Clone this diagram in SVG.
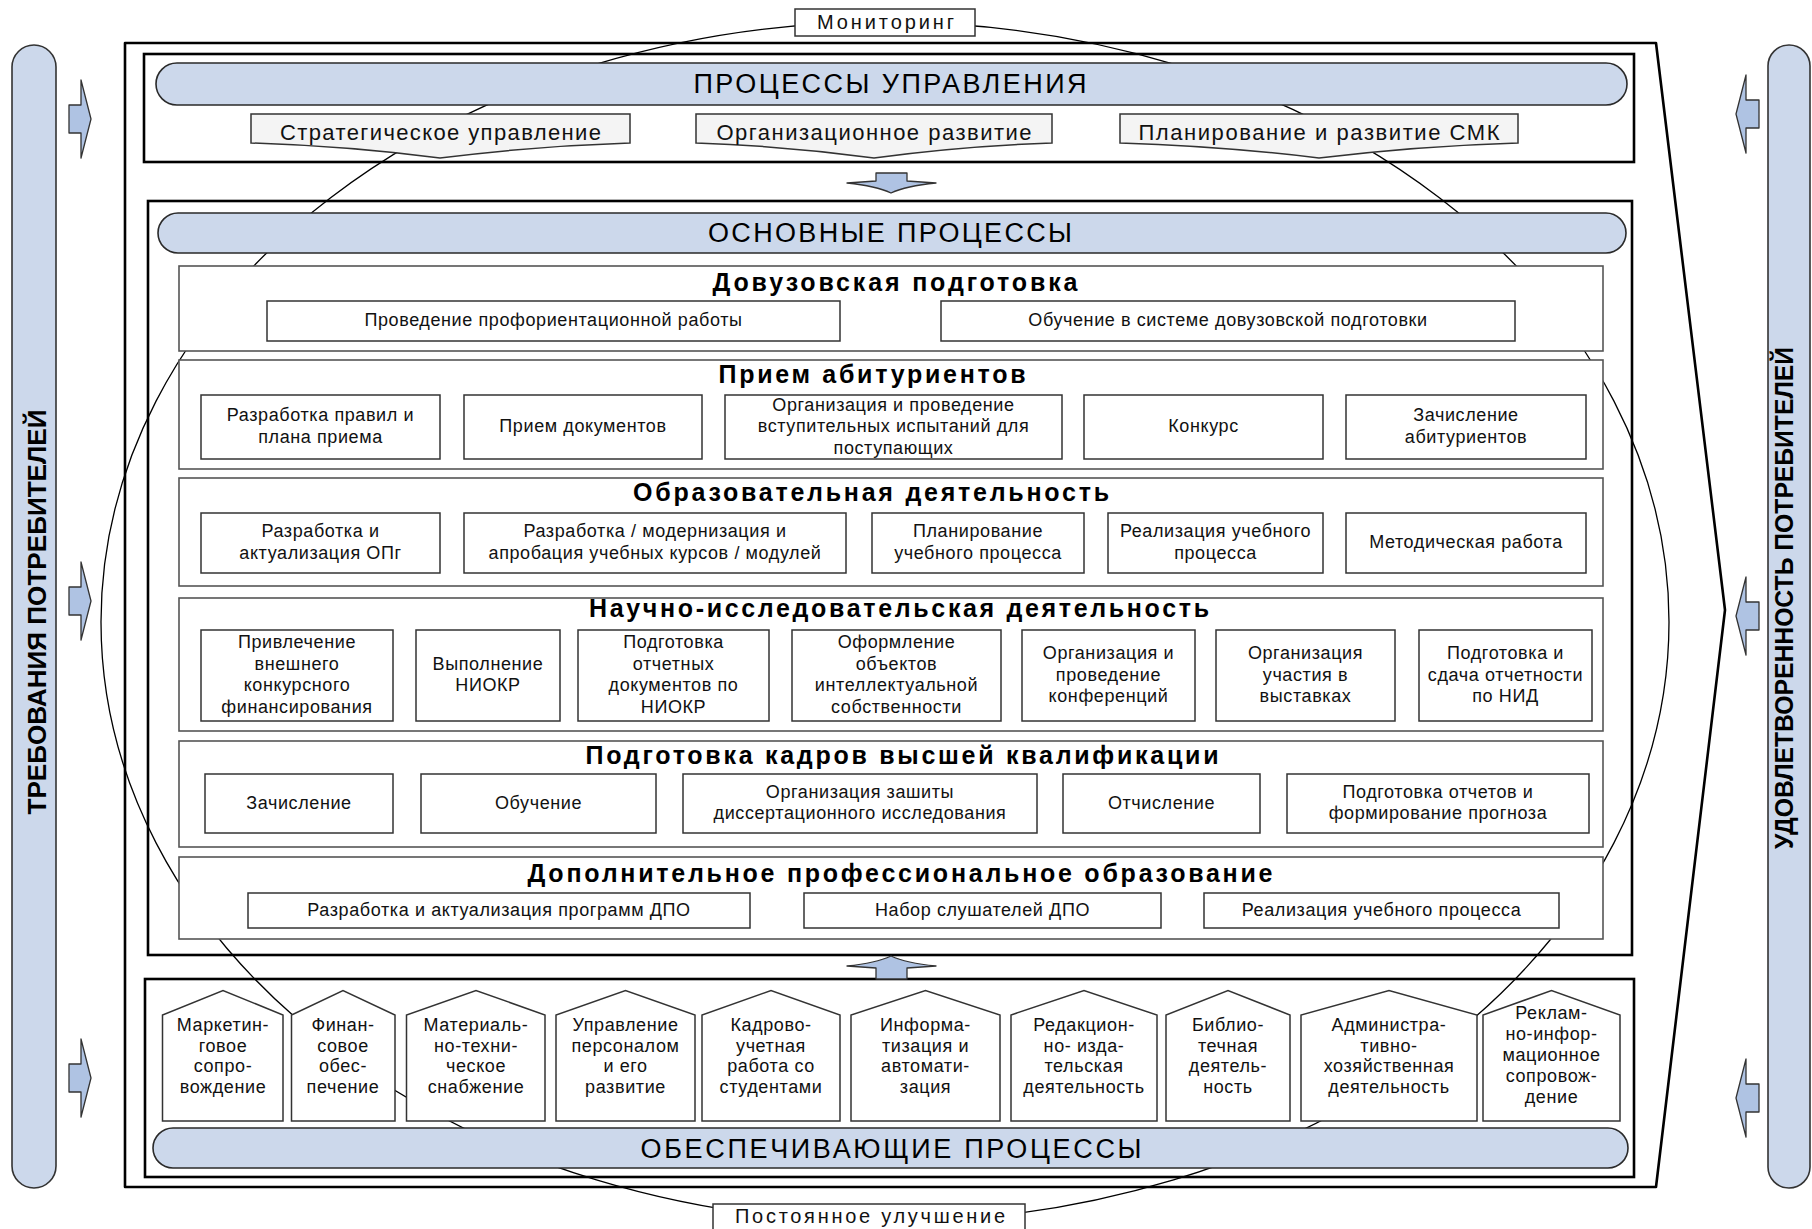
<svg xmlns="http://www.w3.org/2000/svg" width="1812" height="1229" viewBox="0 0 1812 1229">
<style>
  .frame{fill:#fff;stroke:#000;stroke-width:2.6;stroke-linejoin:round}
  .cont{fill:#fff;stroke:#000;stroke-width:2.6}
  .pill{fill:#ccd8eb;stroke:#2a2a2a;stroke-width:1.6}
  .bar{fill:#ccd8eb;stroke:#333;stroke-width:1.6}
  .sec{fill:#fff;stroke:#555;stroke-width:1.6}
  .box{fill:#fff;stroke:#333;stroke-width:1.5}
  .mg{fill:#f4f4f4;stroke:#333;stroke-width:1.5}
  .lbl{fill:#fff;stroke:#333;stroke-width:1.5}
  .loop{fill:none;stroke:#000;stroke-width:1.3}
  .arr{fill:#afc3e3;stroke:#333;stroke-width:1.3;stroke-linejoin:round}
  text{font-family:"Liberation Sans",Arial,sans-serif;text-anchor:middle;fill:#111}
  .t{font-size:18px;letter-spacing:0.6px}
  .mgt{font-size:22px}
  .pt{font-size:27px;fill:#000}
  .h{font-size:25px;font-weight:bold;fill:#000}
  .bt{font-size:25px;font-weight:bold;fill:#000}
  .lt{font-size:20px}
</style>

<!-- outer frame -->
<g id="outer-frame">
  <polygon class="frame" points="125,43 1656,43 1725,610 1656,1187 125,1187"/>
</g>

<!-- container boxes -->
<g id="management-box"><rect class="cont" x="144" y="54" width="1490" height="108"/></g>
<g id="core-box"><rect class="cont" x="148" y="201" width="1484" height="754"/></g>
<g id="support-box"><rect class="cont" x="145" y="979" width="1489" height="198"/></g>

<!-- connectors: monitoring / improvement loop and flow arrows -->
<g id="connectors">
  <ellipse class="loop" cx="885" cy="622" rx="784" ry="600"/>
  <path class="arr" d="M876,173 H907 V181 L936,183 Q906,186 891,193 Q876,186 847,183 L876,181 Z"/>
  <path class="arr" d="M876,979 V968 L847,966 Q876,963 891,956 Q906,963 936,966 L907,968 V979 Z"/>
  <!-- requirement arrows (left) -->
  <path class="arr" d="M69,105 H81 V80 L91,119 L81,158 V133 H69 Z"/>
  <path class="arr" d="M69,587 H81 V562 L91,601 L81,640 V615 H69 Z"/>
  <path class="arr" d="M69,1064 H81 V1039 L91,1078 L81,1117 V1092 H69 Z"/>
  <!-- satisfaction arrows (right) -->
  <path class="arr" d="M1759,100 H1746 V75 L1736,114 L1746,153 V128 H1759 Z"/>
  <path class="arr" d="M1759,602 H1746 V577 L1736,616 L1746,655 V630 H1759 Z"/>
  <path class="arr" d="M1759,1084 H1746 V1059 L1736,1098 L1746,1137 V1112 H1759 Z"/>
</g>

<!-- side bars -->
<g id="requirements-bar">
  <rect class="bar" x="12" y="45" width="44" height="1143" rx="22"/>
  <text class="bt" transform="translate(46,612) rotate(-90)" textLength="405" lengthAdjust="spacingAndGlyphs">ТРЕБОВАНИЯ ПОТРЕБИТЕЛЕЙ</text>
</g>
<g id="satisfaction-bar">
  <rect class="bar" x="1768" y="45" width="42" height="1143" rx="21"/>
  <text class="bt" transform="translate(1793,598) rotate(-90)" textLength="502" lengthAdjust="spacingAndGlyphs">УДОВЛЕТВОРЕННОСТЬ ПОТРЕБИТЕЛЕЙ</text>
</g>

<!-- management processes -->
<g id="management-title">
  <rect class="pill" x="156" y="63" width="1471" height="42" rx="21"/>
  <text class="pt" x="890" y="93" textLength="393">ПРОЦЕССЫ УПРАВЛЕНИЯ</text>
</g>
<g id="mg-strategic">
  <path class="mg" d="M251,114 H630 V143 Q535,146 440,158 Q346,146 251,143 Z"/>
  <text class="mgt" x="440.5" y="140" textLength="321">Стратегическое управление</text>
</g>
<g id="mg-org">
  <path class="mg" d="M696,114 H1052 V143 Q963,146 874,158 Q785,146 696,143 Z"/>
  <text class="mgt" x="874" y="140" textLength="315">Организационное развитие</text>
</g>
<g id="mg-qms">
  <path class="mg" d="M1120,114 H1518 V143 Q1419,146 1319,158 Q1220,146 1120,143 Z"/>
  <text class="mgt" x="1319" y="140" textLength="361">Планирование и развитие СМК</text>
</g>

<!-- core processes -->
<g id="core-title">
  <rect class="pill" x="158" y="213" width="1468" height="40" rx="20"/>
  <text class="pt" x="890" y="242" textLength="364">ОСНОВНЫЕ ПРОЦЕССЫ</text>
</g>

<g id="sec-preuniversity">
  <rect class="sec" x="179" y="266" width="1424" height="85"/>
  <text class="h" x="895" y="291" textLength="365">Довузовская подготовка</text>
  <rect class="box" x="267" y="301" width="573" height="40"/>
  <text class="t" x="553.5" y="326">Проведение профориентационной работы</text>
  <rect class="box" x="941" y="301" width="574" height="40"/>
  <text class="t" x="1228" y="326">Обучение в системе довузовской подготовки</text>
</g>

<g id="sec-admission">
  <rect class="sec" x="179" y="360" width="1424" height="109"/>
  <text class="h" x="872" y="383" textLength="307">Прием абитуриентов</text>
  <rect class="box" x="201" y="395" width="239" height="64"/>
  <text class="t" x="320.5" y="421"><tspan x="320.5">Разработка правил и</tspan><tspan x="320.5" dy="21.5">плана приема</tspan></text>
  <rect class="box" x="464" y="395" width="238" height="64"/>
  <text class="t" x="583" y="432">Прием документов</text>
  <rect class="box" x="725" y="395" width="337" height="64"/>
  <text class="t" x="893.5" y="410.5"><tspan x="893.5">Организация и проведение</tspan><tspan x="893.5" dy="21.5">вступительных испытаний для</tspan><tspan x="893.5" dy="21.5">поступающих</tspan></text>
  <rect class="box" x="1084" y="395" width="239" height="64"/>
  <text class="t" x="1203.5" y="432">Конкурс</text>
  <rect class="box" x="1346" y="395" width="240" height="64"/>
  <text class="t" x="1466" y="421"><tspan x="1466">Зачисление</tspan><tspan x="1466" dy="21.5">абитуриентов</tspan></text>
</g>

<g id="sec-education">
  <rect class="sec" x="179" y="478" width="1424" height="108"/>
  <text class="h" x="871" y="501" textLength="476">Образовательная деятельность</text>
  <rect class="box" x="201" y="513" width="239" height="60"/>
  <text class="t" x="320.5" y="537"><tspan x="320.5">Разработка и</tspan><tspan x="320.5" dy="21.5">актуализация ОПг</tspan></text>
  <rect class="box" x="464" y="513" width="382" height="60"/>
  <text class="t" x="655" y="537"><tspan x="655">Разработка / модернизация и</tspan><tspan x="655" dy="21.5">апробация учебных курсов / модулей</tspan></text>
  <rect class="box" x="872" y="513" width="212" height="60"/>
  <text class="t" x="978" y="537"><tspan x="978">Планирование</tspan><tspan x="978" dy="21.5">учебного процесса</tspan></text>
  <rect class="box" x="1108" y="513" width="215" height="60"/>
  <text class="t" x="1215.5" y="537"><tspan x="1215.5">Реализация учебного</tspan><tspan x="1215.5" dy="21.5">процесса</tspan></text>
  <rect class="box" x="1346" y="513" width="240" height="60"/>
  <text class="t" x="1466" y="548">Методическая работа</text>
</g>

<g id="sec-research">
  <rect class="sec" x="179" y="598" width="1424" height="133"/>
  <text class="h" x="899" y="617" textLength="620">Научно-исследовательская деятельность</text>
  <rect class="box" x="201" y="630" width="192" height="91"/>
  <text class="t" x="297" y="648"><tspan x="297">Привлечение</tspan><tspan x="297" dy="21.5">внешнего</tspan><tspan x="297" dy="21.5">конкурсного</tspan><tspan x="297" dy="21.5">финансирования</tspan></text>
  <rect class="box" x="416" y="630" width="144" height="91"/>
  <text class="t" x="488" y="669.5"><tspan x="488">Выполнение</tspan><tspan x="488" dy="21.5">НИОКР</tspan></text>
  <rect class="box" x="578" y="630" width="191" height="91"/>
  <text class="t" x="673.5" y="648"><tspan x="673.5">Подготовка</tspan><tspan x="673.5" dy="21.5">отчетных</tspan><tspan x="673.5" dy="21.5">документов по</tspan><tspan x="673.5" dy="21.5">НИОКР</tspan></text>
  <rect class="box" x="792" y="630" width="209" height="91"/>
  <text class="t" x="896.5" y="648"><tspan x="896.5">Оформление</tspan><tspan x="896.5" dy="21.5">объектов</tspan><tspan x="896.5" dy="21.5">интеллектуальной</tspan><tspan x="896.5" dy="21.5">собственности</tspan></text>
  <rect class="box" x="1022" y="630" width="173" height="91"/>
  <text class="t" x="1108.5" y="659"><tspan x="1108.5">Организация и</tspan><tspan x="1108.5" dy="21.5">проведение</tspan><tspan x="1108.5" dy="21.5">конференций</tspan></text>
  <rect class="box" x="1216" y="630" width="179" height="91"/>
  <text class="t" x="1305.5" y="659"><tspan x="1305.5">Организация</tspan><tspan x="1305.5" dy="21.5">участия в</tspan><tspan x="1305.5" dy="21.5">выставках</tspan></text>
  <rect class="box" x="1419" y="630" width="173" height="91"/>
  <text class="t" x="1505.5" y="659"><tspan x="1505.5">Подготовка и</tspan><tspan x="1505.5" dy="21.5">сдача отчетности</tspan><tspan x="1505.5" dy="21.5">по НИД</tspan></text>
</g>

<g id="sec-postgraduate">
  <rect class="sec" x="179" y="741" width="1424" height="106"/>
  <text class="h" x="902" y="764" textLength="633">Подготовка кадров высшей квалификации</text>
  <rect class="box" x="205" y="774" width="188" height="59"/>
  <text class="t" x="299" y="808.5">Зачисление</text>
  <rect class="box" x="421" y="774" width="235" height="59"/>
  <text class="t" x="538.5" y="808.5">Обучение</text>
  <rect class="box" x="683" y="774" width="354" height="59"/>
  <text class="t" x="860" y="798"><tspan x="860">Организация зашиты</tspan><tspan x="860" dy="21">диссертационного исследования</tspan></text>
  <rect class="box" x="1063" y="774" width="197" height="59"/>
  <text class="t" x="1161.5" y="808.5">Отчисление</text>
  <rect class="box" x="1287" y="774" width="302" height="59"/>
  <text class="t" x="1438" y="798"><tspan x="1438">Подготовка отчетов и</tspan><tspan x="1438" dy="21">формирование прогноза</tspan></text>
</g>

<g id="sec-additional">
  <rect class="sec" x="179" y="857" width="1424" height="82"/>
  <text class="h" x="900" y="882" textLength="745">Дополнительное профессиональное образование</text>
  <rect class="box" x="248" y="893" width="502" height="35"/>
  <text class="t" x="499" y="916">Разработка и актуализация программ ДПО</text>
  <rect class="box" x="804" y="893" width="357" height="35"/>
  <text class="t" x="982.5" y="916">Набор слушателей ДПО</text>
  <rect class="box" x="1204" y="893" width="355" height="35"/>
  <text class="t" x="1381.5" y="916">Реализация учебного процесса</text>
</g>

<!-- supporting processes -->
<g id="sup-marketing">
  <path class="box" d="M162.5,1121 V1015 L223,990.5 L283,1015 V1121 Z"/>
  <text class="t" x="223" y="1031"><tspan x="223">Маркетин-</tspan><tspan x="223" dy="20.5">говое</tspan><tspan x="223" dy="20.5">сопро-</tspan><tspan x="223" dy="20.5">вождение</tspan></text>
</g>
<g id="sup-finance">
  <path class="box" d="M291.5,1121 V1015 L343,990.5 L395,1015 V1121 Z"/>
  <text class="t" x="343" y="1031"><tspan x="343">Финан-</tspan><tspan x="343" dy="20.5">совое</tspan><tspan x="343" dy="20.5">обес-</tspan><tspan x="343" dy="20.5">печение</tspan></text>
</g>
<g id="sup-logistics">
  <path class="box" d="M406.5,1121 V1015 L476,990.5 L545,1015 V1121 Z"/>
  <text class="t" x="476" y="1031"><tspan x="476">Материаль-</tspan><tspan x="476" dy="20.5">но-техни-</tspan><tspan x="476" dy="20.5">ческое</tspan><tspan x="476" dy="20.5">снабжение</tspan></text>
</g>
<g id="sup-hr">
  <path class="box" d="M556,1121 V1015 L625.5,990.5 L695,1015 V1121 Z"/>
  <text class="t" x="625.5" y="1031"><tspan x="625.5">Управление</tspan><tspan x="625.5" dy="20.5">персоналом</tspan><tspan x="625.5" dy="20.5">и его</tspan><tspan x="625.5" dy="20.5">развитие</tspan></text>
</g>
<g id="sup-students">
  <path class="box" d="M702,1121 V1015 L771,990.5 L840,1015 V1121 Z"/>
  <text class="t" x="771" y="1031"><tspan x="771">Кадрово-</tspan><tspan x="771" dy="20.5">учетная</tspan><tspan x="771" dy="20.5">работа со</tspan><tspan x="771" dy="20.5">студентами</tspan></text>
</g>
<g id="sup-it">
  <path class="box" d="M851,1121 V1015 L925.5,990.5 L1000,1015 V1121 Z"/>
  <text class="t" x="925.5" y="1031"><tspan x="925.5">Информа-</tspan><tspan x="925.5" dy="20.5">тизация и</tspan><tspan x="925.5" dy="20.5">автомати-</tspan><tspan x="925.5" dy="20.5">зация</tspan></text>
</g>
<g id="sup-publishing">
  <path class="box" d="M1011,1121 V1015 L1084,990.5 L1157,1015 V1121 Z"/>
  <text class="t" x="1084" y="1031"><tspan x="1084">Редакцион-</tspan><tspan x="1084" dy="20.5">но- изда-</tspan><tspan x="1084" dy="20.5">тельская</tspan><tspan x="1084" dy="20.5">деятельность</tspan></text>
</g>
<g id="sup-library">
  <path class="box" d="M1166,1121 V1015 L1228,990.5 L1290,1015 V1121 Z"/>
  <text class="t" x="1228" y="1031"><tspan x="1228">Библио-</tspan><tspan x="1228" dy="20.5">течная</tspan><tspan x="1228" dy="20.5">деятель-</tspan><tspan x="1228" dy="20.5">ность</tspan></text>
</g>
<g id="sup-admin">
  <path class="box" d="M1301,1121 V1015 L1389,990.5 L1477,1015 V1121 Z"/>
  <text class="t" x="1389" y="1031"><tspan x="1389">Администра-</tspan><tspan x="1389" dy="20.5">тивно-</tspan><tspan x="1389" dy="20.5">хозяйственная</tspan><tspan x="1389" dy="20.5">деятельность</tspan></text>
</g>
<g id="sup-promo">
  <path class="box" d="M1483,1121 V1015 L1551.5,990.5 L1620,1015 V1121 Z"/>
  <text class="t" x="1551.5" y="1019"><tspan x="1551.5">Реклам-</tspan><tspan x="1551.5" dy="21">но-инфор-</tspan><tspan x="1551.5" dy="21">мационное</tspan><tspan x="1551.5" dy="21">сопровож-</tspan><tspan x="1551.5" dy="21">дение</tspan></text>
</g>
<g id="support-title">
  <rect class="pill" x="153" y="1128" width="1475" height="40" rx="20"/>
  <text class="pt" x="891" y="1158" textLength="501">ОБЕСПЕЧИВАЮЩИЕ ПРОЦЕССЫ</text>
</g>

<!-- loop labels -->
<g id="monitoring">
  <rect class="lbl" x="795" y="9" width="180" height="27"/>
  <text class="lt" x="885.5" y="29" textLength="137">Мониторинг</text>
</g>
<g id="improvement">
  <rect class="lbl" x="713" y="1204" width="312" height="30"/>
  <text class="lt" x="870" y="1223" textLength="270">Постоянное улучшение</text>
</g>
</svg>
